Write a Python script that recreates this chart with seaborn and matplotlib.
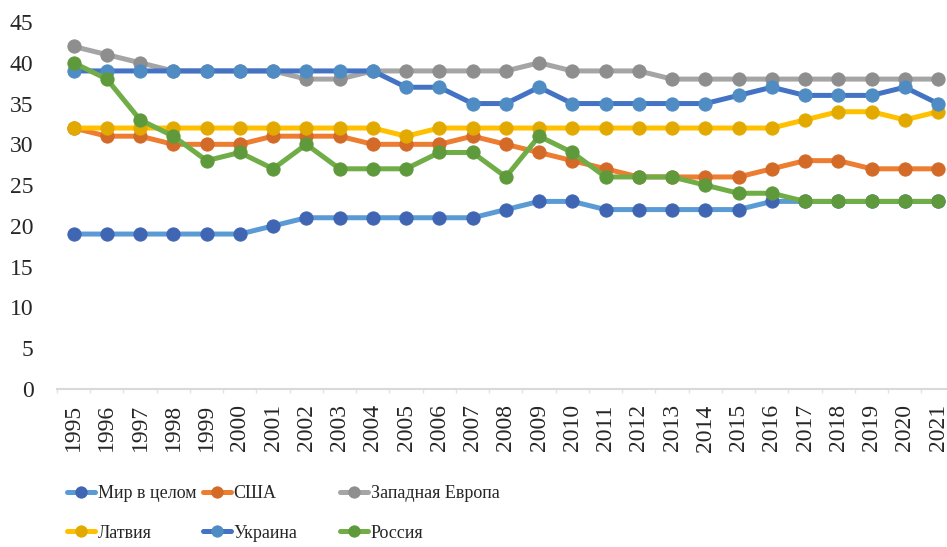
import pandas as pd
import seaborn as sns
import matplotlib.pyplot as plt
import numpy as np

years = list(range(1995, 2022))

world = [19, 19, 19, 19, 19, 19, 20, 21, 21, 21, 21, 21, 21, 22, 23, 23, 22, 22, 22, 22, 22, 23, 23, 23, 23, 23, 23]
usa = [32, 31, 31, 30, 30, 30, 31, 31, 31, 30, 30, 30, 31, 30, 29, 28, 27, 26, 26, 26, 26, 27, 28, 28, 27, 27, 27]
west_europe = [42, 41, 40, 39, 39, 39, 39, 38, 38, 39, 39, 39, 39, 39, 40, 39, 39, 39, 38, 38, 38, 38, 38, 38, 38, 38, 38]
latvia = [32, 32, 32, 32, 32, 32, 32, 32, 32, 32, 31, 32, 32, 32, 32, 32, 32, 32, 32, 32, 32, 32, 33, 34, 34, 33, 34]
ukraine = [39, 39, 39, 39, 39, 39, 39, 39, 39, 39, 37, 37, 35, 35, 37, 35, 35, 35, 35, 35, 36, 37, 36, 36, 36, 37, 35]
russia = [40, 38, 33, 31, 28, 29, 27, 30, 27, 27, 27, 29, 29, 26, 31, 29, 26, 26, 26, 25, 24, 24, 23, 23, 23, 23, 23]

names = ['Мир в целом', 'США', 'Западная Европа', 'Латвия', 'Украина', 'Россия']
df = pd.DataFrame({'year': years, names[0]: world, names[1]: usa, names[2]: west_europe,
                   names[3]: latvia, names[4]: ukraine, names[5]: russia})

# цвет линии, цвет маркера
colors = {
    'Мир в целом': ('#5B9BD5', '#3F65B3'),
    'США': ('#ED7D31', '#D36A28'),
    'Западная Европа': ('#A5A5A5', '#8E8E8E'),
    'Латвия': ('#FFC000', '#E2AA00'),
    'Украина': ('#4472C4', '#508CC4'),
    'Россия': ('#70AD47', '#5E9A3B'),
}

sns.set_style('white')
plt.rcParams['font.family'] = ['Liberation Serif', 'DejaVu Serif']

fig = plt.figure(figsize=(9.47, 5.47), dpi=100)
ax = fig.add_axes([57 / 947, 1 - 389 / 547, 1 - 57 / 947, (389 - 22) / 547])

for name in names:
    line_c, mark_c = colors[name]
    sns.lineplot(data=df, x='year', y=name, color=line_c, linewidth=3.6,
                 marker='o', markersize=9.5, markerfacecolor=mark_c,
                 markeredgecolor=mark_c, label=name, ax=ax)

ax.set_xlim(1994.5, 2021.27)
ax.set_ylim(0, 45)
ax.set_yticks(range(0, 50, 5))
ax.set_xticks(years)
ax.set_xticklabels([str(y) for y in years], rotation=90)
ax.set_xticks(np.arange(1994.5, 2021.5, 1), minor=True)
ax.set_xlabel('')
ax.set_ylabel('')

ax.tick_params(axis='x', which='major', length=0, pad=11, labelsize=17)
ax.tick_params(axis='x', which='minor', length=3, color='#E3E3E3', width=1, bottom=True)
ax.tick_params(axis='y', length=0, pad=17, labelsize=17)
for s in ['top', 'right', 'left']:
    ax.spines[s].set_visible(False)
ax.spines['bottom'].set_color('#D9D9D9')
ax.spines['bottom'].set_linewidth(1.5)

handles, labels = ax.get_legend_handles_labels()
ax.get_legend().remove()

# три колонки легенды
xs = [67, 203, 340]
for i in range(3):
    fig.legend([handles[i], handles[i + 3]], [labels[i], labels[i + 3]],
               loc='upper left', bbox_to_anchor=(xs[i] / 947, 1 - 485 / 547),
               frameon=False, fontsize=13, handlelength=1.55, handletextpad=0.15,
               labelspacing=1.25, borderpad=0, borderaxespad=0, markerscale=0.85)

fig.savefig('out.png', dpi=100)
